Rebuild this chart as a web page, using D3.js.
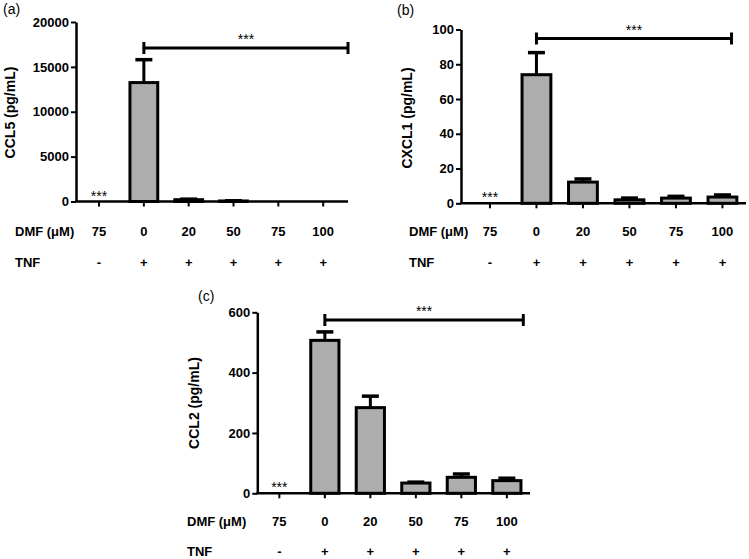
<!DOCTYPE html>
<html><head><meta charset="utf-8">
<script src="https://cdn.jsdelivr.net/npm/d3@7"></script>
<style>
body{margin:0;background:#fff}
svg{display:block}
text{font-family:"Liberation Sans",Arial,Helvetica,sans-serif}
</style>
</head><body>
<svg id="chart" width="749" height="559"></svg>
<script>
// ---- data ----
const dmfLabels = ["75", "0", "20", "50", "75", "100"];
const tnfLabels = ["-", "+", "+", "+", "+", "+"];

const ccl5Mean = [0, 13250, 200, 60, 0, 0];
const ccl5Sem  = [0, 2550, 60, 20, 0, 0];
const ccl5Ticks = [0, 5000, 10000, 15000, 20000];

const cxcl1Mean = [0, 74, 12.2, 2, 3, 3.6];
const cxcl1Sem  = [0, 12.7, 1.8, 1, 1, 1.2];
const cxcl1Ticks = [0, 20, 40, 60, 80, 100];

const ccl2Mean = [0, 507, 284, 34, 53, 42];
const ccl2Sem  = [0, 28, 38, 3, 11, 8];
const ccl2Ticks = [0, 200, 400, 600];

const panelLetters = ["(a)", "(b)", "(c)"];
const yTitles = ["CCL5 (pg/mL)", "CXCL1 (pg/mL)", "CCL2 (pg/mL)"];
const sigLabel = "***";

// ---- layout ----
const panels = [
  {mean: ccl5Mean, sem: ccl5Sem, ticks: ccl5Ticks, letter: panelLetters[0], title: yTitles[0],
   axisX: 76, xStart: 76.6, xEnd: 345.6, axisEnd: 348, yTop: 22, yBase: 201.5,
   sigY: 48, sigX2: 348, letterPos: [3, 14], titlePos: [9.5, 112.5], rowX: 15, dmfY: 236, tnfY: 267},
  {mean: cxcl1Mean, sem: cxcl1Sem, ticks: cxcl1Ticks, letter: panelLetters[1], title: yTitles[1],
   axisX: 461, xStart: 466.7, xEnd: 745.7, axisEnd: 746, yTop: 29.5, yBase: 203.3,
   sigY: 38.5, sigX2: 731.5, letterPos: [397, 15], titlePos: [407, 118], rowX: 409, dmfY: 236, tnfY: 267},
  {mean: ccl2Mean, sem: ccl2Sem, ticks: ccl2Ticks, letter: panelLetters[2], title: yTitles[2],
   axisX: 257.3, xStart: 256.6, xEnd: 529.6, axisEnd: 530, yTop: 312.3, yBase: 493.3,
   sigY: 320, sigX2: 523.3, letterPos: [198, 301], titlePos: [194, 403], rowX: 187, dmfY: 526, tnfY: 556}
];

const svg = d3.select("#chart");
const idx = d3.range(dmfLabels.length);

panels.forEach(p => {
  const g = svg.append("g");
  const x = d3.scaleBand().domain(idx).range([p.xStart, p.xEnd]).paddingInner(0).paddingOuter(0);
  const yMax = d3.max(p.ticks);
  const y = d3.scaleLinear().domain([0, yMax]).range([p.yBase, p.yTop]);
  const bw = x.bandwidth() * 0.62;
  const cx = i => x(i) + x.bandwidth() / 2;

  // panel letter
  g.append("text").attr("x", p.letterPos[0]).attr("y", p.letterPos[1])
    .attr("font-size", 14).attr("fill", "#000").text(p.letter);

  // y title
  g.append("text")
    .attr("transform", `translate(${p.titlePos[0]},${p.titlePos[1]}) rotate(-90)`)
    .attr("text-anchor", "middle").attr("dominant-baseline", "central")
    .attr("font-size", 14).attr("font-weight", "bold").text(p.title);

  // bars
  g.selectAll("rect.bar").data(idx).join("rect").attr("class", "bar")
    .attr("x", i => cx(i) - bw / 2)
    .attr("width", bw)
    .attr("y", i => y(p.mean[i]))
    .attr("height", i => y(0) - y(p.mean[i]))
    .attr("fill", "#adadad").attr("stroke", "#000").attr("stroke-width", 3)
    .style("display", i => p.mean[i] > 0 ? null : "none");

  // error bars (upper only)
  const eb = idx.filter(i => p.sem[i] > 0);
  g.selectAll("line.err").data(eb).join("line").attr("class", "err")
    .attr("x1", cx).attr("x2", cx)
    .attr("y1", i => y(p.mean[i])).attr("y2", i => y(p.mean[i] + p.sem[i]))
    .attr("stroke", "#000").attr("stroke-width", 3);
  g.selectAll("line.cap").data(eb).join("line").attr("class", "cap")
    .attr("x1", i => cx(i) - 8.5).attr("x2", i => cx(i) + 8.5)
    .attr("y1", i => y(p.mean[i] + p.sem[i])).attr("y2", i => y(p.mean[i] + p.sem[i]))
    .attr("stroke", "#000").attr("stroke-width", 3.5);

  // y axis
  const ya = g.append("g").attr("transform", `translate(${p.axisX},0)`)
    .call(d3.axisLeft(y).tickValues(p.ticks).tickSize(5).tickSizeOuter(0).tickPadding(2).tickFormat(d3.format("d")));
  ya.select(".domain").attr("stroke-width", 2.5);
  ya.selectAll(".tick line").attr("stroke-width", 2);
  ya.selectAll(".tick text").attr("font-size", 13).attr("font-weight", "bold")
    .attr("font-family", "'Liberation Sans',Arial,sans-serif").attr("fill", "#000");

  // x axis
  const xa = g.append("g").attr("transform", `translate(0,${p.yBase})`)
    .call(d3.axisBottom(x).tickSize(5).tickSizeOuter(0).tickFormat(""));
  xa.select(".domain").remove();
  xa.selectAll(".tick line").attr("stroke-width", 2);
  g.append("line").attr("x1", p.axisX - 1).attr("x2", p.axisEnd)
    .attr("y1", p.yBase).attr("y2", p.yBase)
    .attr("stroke", "#000").attr("stroke-width", 2.5);

  // *** over first (no TNF) group
  g.append("text").attr("x", cx(0)).attr("y", p.yBase - 1)
    .attr("text-anchor", "middle").attr("font-size", 14).text(sigLabel);

  // significance bracket
  const sx1 = cx(1), sx2 = p.sigX2;
  g.append("line").attr("x1", sx1).attr("x2", sx2).attr("y1", p.sigY).attr("y2", p.sigY)
    .attr("stroke", "#000").attr("stroke-width", 3);
  [sx1, sx2].forEach(sx => g.append("line").attr("x1", sx).attr("x2", sx)
    .attr("y1", p.sigY - 6).attr("y2", p.sigY + 6).attr("stroke", "#000").attr("stroke-width", 3));
  g.append("text").attr("x", (sx1 + sx2) / 2).attr("y", p.sigY - 4)
    .attr("text-anchor", "middle").attr("font-size", 14).text(sigLabel);

  // DMF / TNF rows
  g.append("text").attr("x", p.rowX).attr("y", p.dmfY)
    .attr("font-size", 13).attr("font-weight", "bold").text("DMF (μM)");
  g.append("text").attr("x", p.rowX).attr("y", p.tnfY)
    .attr("font-size", 13).attr("font-weight", "bold").text("TNF");
  g.selectAll("text.dmf").data(idx).join("text").attr("class", "dmf")
    .attr("x", cx).attr("y", p.dmfY).attr("text-anchor", "middle")
    .attr("font-size", 13).attr("font-weight", "bold").text(i => dmfLabels[i]);
  g.selectAll("text.tnf").data(idx).join("text").attr("class", "tnf")
    .attr("x", cx).attr("y", p.tnfY).attr("text-anchor", "middle")
    .attr("font-size", 13).attr("font-weight", "bold").text(i => tnfLabels[i]);
});
</script>
</body></html>
